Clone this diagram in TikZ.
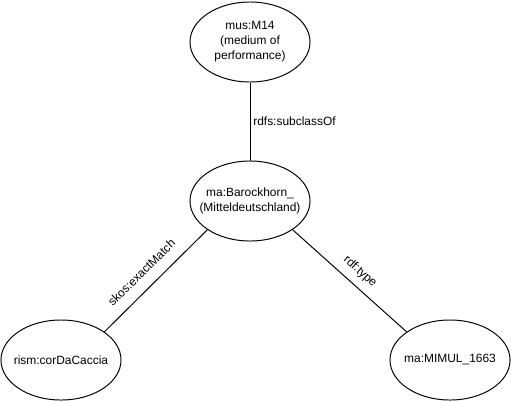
\documentclass[tikz,border=0pt]{standalone}
\usepackage{fontspec}
\setmainfont{Liberation Sans}
\usetikzlibrary{shapes.geometric}

\begin{document}
\begin{tikzpicture}[x=0.025cm,y=-0.025cm,line width=0.7pt,
    font=\fontsize{8.5}{10.6}\selectfont]

      \useasboundingbox (0,0) rectangle (511,401);

      % negative inner sep keeps the ellipses at their minimum size
      \begin{scope}[every node/.style={ellipse,draw,minimum width=3cm,minimum height=2cm,inner sep=-10pt,align=center}]
        \node (m14) at (250,42) {mus:M14\\(medium of\\performance)};
        \node (horn) at (250,201) {ma:Barockhorn\_\\(Mitteldeutschland)};
        \node (rism) at (61,360) {rism:corDaCaccia};
        \node (mimul) at (450,360) {ma:MIMUL\_1663};
      \end{scope}

      \begin{scope}[every node/.style={inner sep=0pt}]

        \begin{scope}[every edge/.style={draw}]
          \path (m14) edge node[right=2pt,midway] {rdfs:subclassOf} (horn);
          \path (rism.33) edge node[sloped,above=7.9pt,pos=0.47] {skos:exactMatch} (horn.214);
          \path (horn.326) edge node[sloped,above=5.5pt,pos=0.51] {rdf:type} (mimul.147);
        \end{scope}

      \end{scope}

    \end{tikzpicture}
\end{document}
